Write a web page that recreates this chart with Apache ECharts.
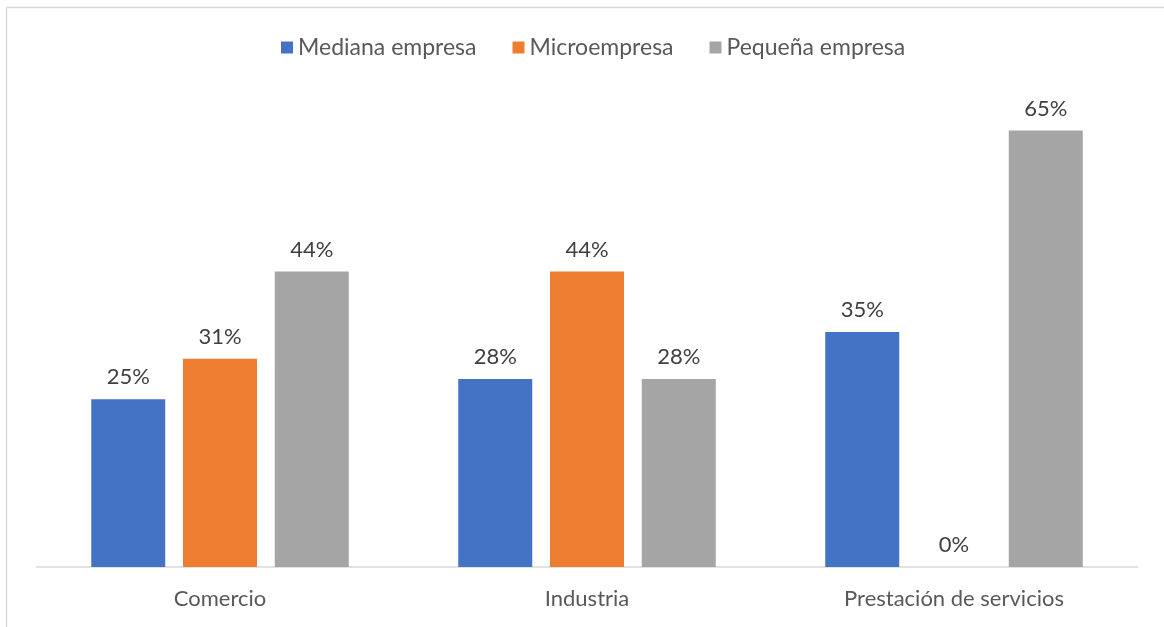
<!DOCTYPE html>
<html>
<head>
<meta charset="utf-8">
<style>
  html, body { margin: 0; padding: 0; background: #ffffff; }
  #chart { width: 1164px; height: 627px; }
</style>
<script src="https://cdn.jsdelivr.net/npm/echarts@6/dist/echarts.min.js"></script>
</head>
<body>
<div id="chart"></div>
<script>
// Sector categories on the x axis
const categories = ['Comercio', 'Industria', 'Prestación de servicios'];

// Share of firms by size, in percent
const mediana = [25, 28, 35];
const micro = [31, 44, 0];
const pequena = [44, 28, 65];

const seriesNames = ['Mediana empresa', 'Microempresa', 'Pequeña empresa'];
const seriesColors = ['#4472C4', '#ED7D31', '#A5A5A5'];
const seriesData = [mediana, micro, pequena];

const FONT = 'Lato, "Open Sans", sans-serif';

const chart = echarts.init(document.getElementById('chart'), null, { renderer: 'canvas' });

const series = seriesData.map((values, i) => ({
  name: seriesNames[i],
  type: 'bar',
  data: values,
  barWidth: 74,
  barGap: '24%',
  itemStyle: { color: seriesColors[i] },
  label: {
    show: true,
    position: 'top',
    distance: 11,
    formatter: p => Math.round(p.value) + '%',
    color: '#404040',
    fontFamily: FONT,
    fontSize: 22
  },
  emphasis: { disabled: true }
}));

chart.setOption({
  animation: false,
  backgroundColor: '#ffffff',
  graphic: [{
    type: 'rect',
    shape: { x: 6.5, y: 7.5, width: 1200, height: 700 },
    style: { fill: 'none', stroke: '#d9d9d9', lineWidth: 1.5 },
    silent: true
  }],
  legend: {
    top: 31,
    left: 276,
    itemWidth: 12,
    itemHeight: 12,
    itemGap: 36,
    icon: 'rect',
    textStyle: { color: '#595959', fontFamily: FONT, fontSize: 23, padding: [0, 0, 0, 0] },
    data: seriesNames
  },
  grid: { left: 36.5, right: 26.5, top: 97, bottom: 60, containLabel: false },
  xAxis: {
    type: 'category',
    data: categories,
    axisLine: { show: true, lineStyle: { color: '#d9d9d9', width: 1.5 } },
    axisTick: { show: false },
    axisLabel: { color: '#595959', fontFamily: FONT, fontSize: 22, margin: 21 }
  },
  yAxis: {
    type: 'value',
    min: 0,
    max: 70,
    interval: 10,
    show: false,
    splitLine: { show: false }
  },
  series: series
});
</script>
</body>
</html>
